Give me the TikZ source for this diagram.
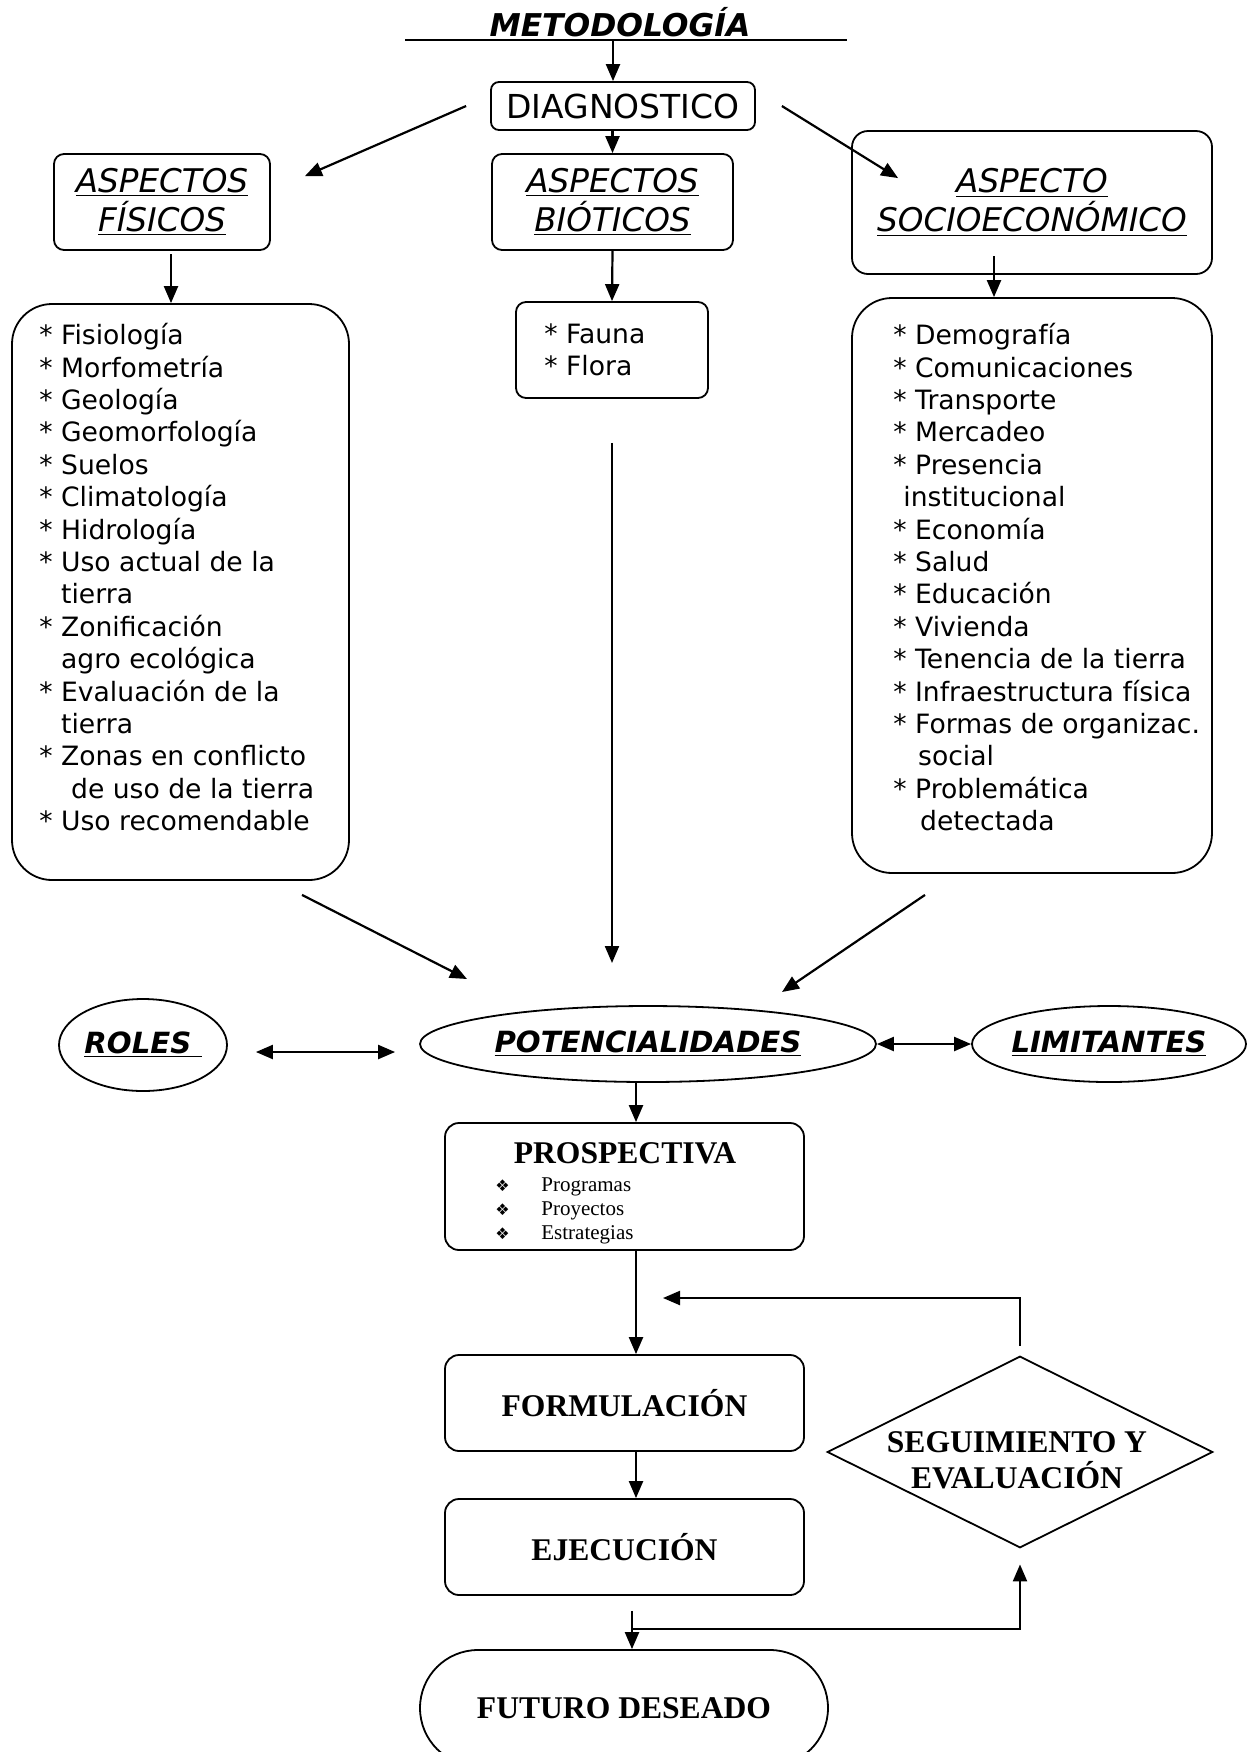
\documentclass[tikz,border=0pt]{standalone}
\usepackage{fontspec}
\setmainfont{DejaVu Sans}[ItalicFont={DejaVu Sans Oblique},BoldItalicFont={DejaVu Sans Bold Oblique}]
\newfontfamily\timesfont{Liberation Serif}
\newfontfamily\dingfont{DejaVu Sans}
\usepackage{tikz}
\usetikzlibrary{shapes.geometric,arrows.meta}

\begin{document}
\begin{tikzpicture}[x=0.5pt,y=-0.5pt,>={Triangle[length=8.5pt,width=7pt]},
  flecha/.style={->,line width=1.1pt},
  titlebox/.style={draw,rounded corners=5pt,line width=0.9pt,align=center,inner sep=0pt,font=\fontsize{16.3}{19.5}\selectfont\itshape},
  listbox/.style={draw,rounded corners=20pt,line width=0.9pt},
  listtext/.style={anchor=north west,align=left,inner sep=0pt,font=\fontsize{13.3}{16.2}\selectfont},
  oval/.style={ellipse,draw,line width=0.9pt,inner sep=0pt,font=\fontsize{14.6}{17}\selectfont\bfseries\itshape},
  stepbox/.style={draw,rounded corners=7pt,line width=0.9pt,minimum width=179.5pt,minimum height=48pt,font=\fontsize{15.8}{19}\selectfont\timesfont\bfseries}]

\useasboundingbox (0,0) rectangle (1248,1752);

% titulo y diagnostico
\node (metod) [anchor=base,inner sep=0pt,font=\fontsize{15.7}{18}\selectfont\bfseries\itshape] at (620,36) {METODOLOGÍA};
\coordinate (ml) at (405,40);
\coordinate (mr) at (847,40);
\draw[line width=1.3pt] (ml) -- (mr);
\node (diag) [draw,rounded corners=4pt,line width=0.9pt,minimum width=132pt,minimum height=24pt,inner sep=0pt,font=\fontsize{16.5}{19}\selectfont] at (623,106) {DIAGNOSTICO};
\coordinate (md) at (613,40);
\draw[flecha] (md) -- (md |- diag.north);

% aspectos
\node (fis) [titlebox,minimum width=108pt,minimum height=48pt] at (162,202) {\underline{ASPECTOS}\\\underline{FÍSICOS}};
\node (bio) [titlebox,minimum width=120.5pt,minimum height=48pt] at (612.5,202) {\underline{ASPECTOS}\\\underline{BIÓTICOS}};
\node (soc) [titlebox,rounded corners=8pt,minimum width=180pt,minimum height=71.5pt] at (1032,202.5) {\underline{ASPECTO}\\\underline{SOCIOECONÓMICO}};

\draw[flecha] ([xshift=-12pt]diag.west) -- ([shift={(17pt,-11.5pt)}]fis.north east);
\draw[flecha] ([xshift=13pt]diag.east) -- ([shift={(23.5pt,-24pt)}]soc.north west);
\draw[flecha] (diag.south -| bio.north) -- (bio.north);

% listas
\node (fisbox) [listbox,minimum width=168.5pt,minimum height=288pt] at (180.5,592) {};
\node (biobox) [listbox,rounded corners=5pt,minimum width=96pt,minimum height=48pt] at (612,350) {};
\node (socbox) [listbox,minimum width=180pt,minimum height=287.5pt] at (1032,585.5) {};

\node (fislist) [listtext] at (39,323) {* Fisiología\\* Morfometría\\* Geología\\* Geomorfología\\* Suelos\\* Climatología\\* Hidrología\\* Uso actual de la\\\hphantom{* }tierra\\* Zonificación\\\hphantom{* }agro ecológica\\* Evaluación de la\\\hphantom{* }tierra\\* Zonas en conflicto\\\hphantom{* }\hspace*{5pt}de uso de la tierra\\* Uso recomendable};
\node (biolist) [listtext] at (544,323) {* Fauna\\* Flora};
\node (soclist) [listtext] at (893,323) {* Demografía\\* Comunicaciones\\* Transporte\\* Mercadeo\\* Presencia\\\hspace*{5pt}institucional\\* Economía\\* Salud\\* Educación\\* Vivienda\\* Tenencia de la tierra\\* Infraestructura física\\* Formas de organizac.\\\hphantom{* }\hspace*{1.5pt}social\\* Problemática\\\hphantom{* }\hspace*{2.5pt}detectada};

\coordinate (fisdn) at (171,254);
\draw[flecha] (fisdn) -- (fisdn |- fisbox.north);
\draw[flecha] (bio.south) -- (biobox.north);
\coordinate (socdn) at (994,256);
\draw[flecha] (socdn) -- (socdn |- socbox.north);

% potencialidades
\node (roles) [oval,minimum width=84pt,minimum height=46pt] at (143,1045) {\underline{ROLES\ }};
\node (pot) [oval,inner xsep=-4pt,minimum width=228pt,minimum height=38pt] at (648,1044) {\underline{POTENCIALIDADES}};
\node (lim) [oval,inner xsep=-8pt,minimum width=137pt,minimum height=38pt] at (1109,1044) {\underline{LIMITANTES}};

\draw[flecha] ([shift={(60.75pt,-7pt)}]fisbox.south) -- ([shift={(-90.5pt,32.5pt)}]pot.center);
\draw[flecha] ([yshift=-22pt]biobox.south) -- ([shift={(-18pt,40.5pt)}]pot.center);
\draw[flecha] ([shift={(-53.5pt,-10.5pt)}]socbox.south) -- ([shift={(67pt,26pt)}]pot.center);
\draw[<->,line width=1.1pt] ([shift={(14pt,-3.5pt)}]roles.east) -- ([shift={(-12pt,-4pt)}]pot.west);
\draw[<->,line width=1.1pt] (pot.east) -- (lim.west);

% prospectiva
\node (prosp) [stepbox,minimum height=63.5pt] at (624.5,1186.5) {};
\node (prosptit) [inner sep=0pt,font=\fontsize{15.8}{19}\selectfont\timesfont\bfseries] at (625,1153) {PROSPECTIVA};
\node (prosplist) [anchor=north west,align=left,inner sep=0pt,font=\fontsize{10.5}{12}\selectfont\timesfont] at (495,1177) {\makebox[23pt][l]{\dingfont\fontsize{8}{12}\selectfont ❖}Programas\\\makebox[23pt][l]{\dingfont\fontsize{8}{12}\selectfont ❖}Proyectos\\\makebox[23pt][l]{\dingfont\fontsize{8}{12}\selectfont ❖}Estrategias};

\coordinate (potdn) at ([xshift=-6pt]pot.south);
\draw[flecha] (potdn) -- (potdn |- prosp.north);

% ejecucion
\node (form) [stepbox] at (624.5,1403) {FORMULACIÓN};
\node (ejec) [stepbox] at (624.5,1547) {EJECUCIÓN};
\node (fut) [stepbox,rounded corners=29pt,minimum width=204pt,minimum height=58pt] at (624,1708) {FUTURO DESEADO};
\node (seg) [inner sep=0pt,minimum width=192pt,minimum height=95pt] at (1020,1452) {};
\draw[line width=0.9pt] (seg.north) -- (seg.east) -- (seg.south) -- (seg.west) -- cycle;
\node (segtxt) [align=center,inner sep=0pt,font=\fontsize{15.8}{18}\selectfont\timesfont\bfseries] at ([shift={(-1.5pt,-4pt)}]seg.center) {SEGUIMIENTO Y\\EVALUACIÓN};

\coordinate (prdn) at ([xshift=5.75pt]prosp.south);
\draw[flecha] (prdn) -- (prdn |- form.north);
\coordinate (fodn) at ([xshift=5.75pt]form.south);
\draw[flecha] (fodn) -- (fodn |- ejec.north);
\coordinate (ejdn) at ([shift={(3.75pt,-7.5pt)}]ejec.south);
\draw[flecha] (ejdn) -- (ejdn |- fut.north);

% seguimiento
\coordinate (lp) at ([yshift=-9pt]ejdn);
\coordinate (fb) at (663,1298);
\draw[flecha] (lp) -| ([yshift=-8.5pt]seg.south);
\draw[flecha] ([yshift=5.5pt]seg.north) |- (fb);
\end{tikzpicture}
\end{document}
